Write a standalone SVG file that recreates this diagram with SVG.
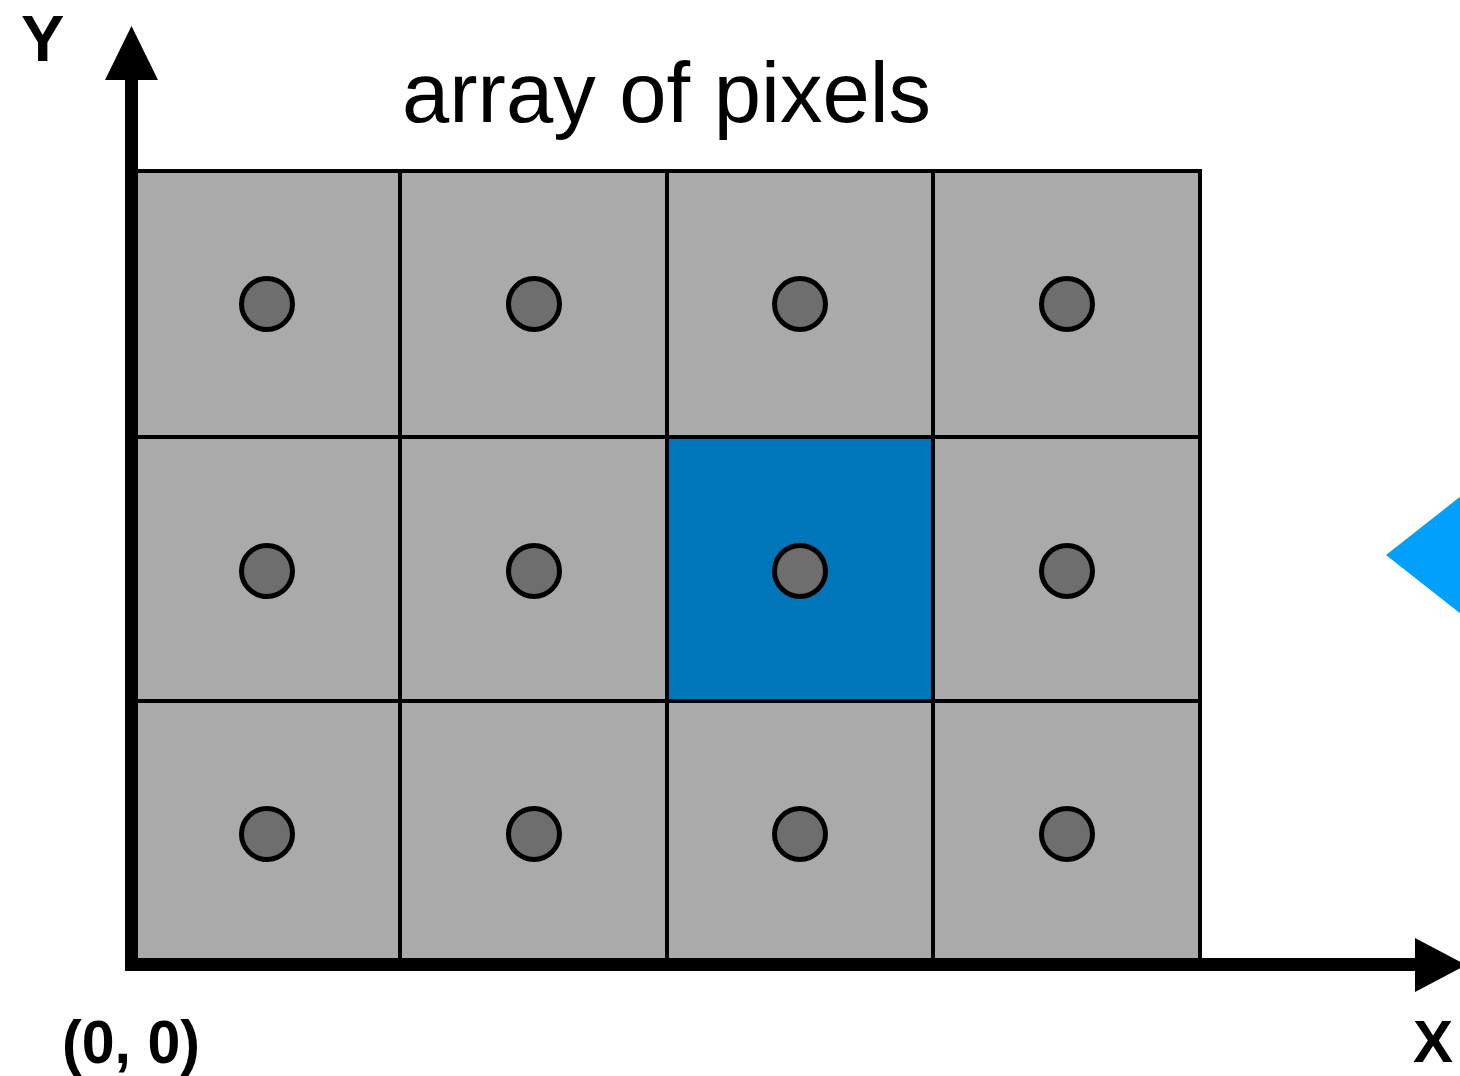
<svg xmlns="http://www.w3.org/2000/svg" width="1460" height="1076" viewBox="0 0 1460 1076">
<style>
.cell{fill:#aaaaaa;stroke:#000;stroke-width:4}
.sel{fill:#0075b8;stroke:#000;stroke-width:4}
.dot{fill:#6e6e6e;stroke:#000;stroke-width:5}
.lbl{font-family:"Liberation Sans",Arial,sans-serif;fill:#000}
.ax{fill:#000}
</style>
<rect width="1460" height="1076" fill="#fff"/>
<g id="cell-0-0"><rect class="cell" x="131" y="171" width="269" height="266"/><circle class="dot" cx="267" cy="304" r="25.5"/></g>
<g id="cell-1-0"><rect class="cell" x="400" y="171" width="267" height="266"/><circle class="dot" cx="534" cy="304" r="25.5"/></g>
<g id="cell-2-0"><rect class="cell" x="667" y="171" width="266" height="266"/><circle class="dot" cx="800" cy="304" r="25.5"/></g>
<g id="cell-3-0"><rect class="cell" x="933" y="171" width="267" height="266"/><circle class="dot" cx="1067" cy="304" r="25.5"/></g>
<g id="cell-0-1"><rect class="cell" x="131" y="437" width="269" height="264"/><circle class="dot" cx="267" cy="571" r="25.5"/></g>
<g id="cell-1-1"><rect class="cell" x="400" y="437" width="267" height="264"/><circle class="dot" cx="534" cy="571" r="25.5"/></g>
<g id="cell-3-1"><rect class="cell" x="933" y="437" width="267" height="264"/><circle class="dot" cx="1067" cy="571" r="25.5"/></g>
<g id="cell-0-2"><rect class="cell" x="131" y="701" width="269" height="264"/><circle class="dot" cx="267" cy="834" r="25.5"/></g>
<g id="cell-1-2"><rect class="cell" x="400" y="701" width="267" height="264"/><circle class="dot" cx="534" cy="834" r="25.5"/></g>
<g id="cell-2-2"><rect class="cell" x="667" y="701" width="266" height="264"/><circle class="dot" cx="800" cy="834" r="25.5"/></g>
<g id="cell-3-2"><rect class="cell" x="933" y="701" width="267" height="264"/><circle class="dot" cx="1067" cy="834" r="25.5"/></g>
<g id="cell-2-1"><rect class="sel" x="667" y="437" width="266" height="264"/><circle class="dot" cx="800" cy="571" r="25.5"/></g>
<g id="connectors">
<rect class="ax" x="125" y="78" width="13" height="893"/>
<rect class="ax" x="125" y="958" width="1292" height="13"/>
<polygon class="ax" points="131.5,26 158,80 105,80"/>
<polygon class="ax" points="1466,965 1415,938 1415,992"/>
</g>
<g id="pointer"><polygon fill="#00a0fc" points="1386,555 1470,489 1470,621"/></g>
<text class="lbl" x="402" y="122" font-size="85">array of pixels</text>
<text class="lbl" x="21" y="61" font-size="65" font-weight="bold">Y</text>
<text class="lbl" x="1413" y="1062" font-size="60" font-weight="bold">X</text>
<text class="lbl" x="62" y="1063" font-size="62" font-weight="bold" textLength="138" lengthAdjust="spacingAndGlyphs">(0, 0)</text>
</svg>
